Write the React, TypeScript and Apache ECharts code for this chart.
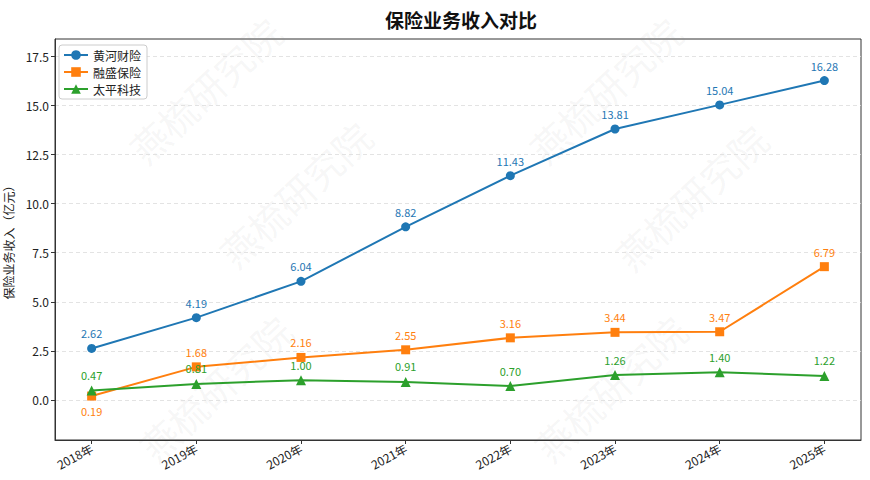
import React, { useEffect, useRef } from "react";
import * as echarts from "echarts";

const years = ["2018年", "2019年", "2020年", "2021年", "2022年", "2023年", "2024年", "2025年"];
const huanghe = [2.62, 4.19, 6.04, 8.82, 11.43, 13.81, 15.04, 16.28];
const rongsheng = [0.19, 1.68, 2.16, 2.55, 3.16, 3.44, 3.47, 6.79];
const taiping = [0.47, 0.81, 1.0, 0.91, 0.7, 1.26, 1.4, 1.22];
const seriesNames = ["黄河财险", "融盛保险", "太平科技"];
const yTicks = [0, 2.5, 5, 7.5, 10, 12.5, 15, 17.5];
const watermarkText = "燕梳研究院";

const FONT = "'Noto Sans CJK SC', 'Noto Sans', sans-serif";
const colors = ["#1f77b4", "#ff7f0e", "#2ca02c"];

export default function App() {
  const ref = useRef<HTMLDivElement>(null);
  useEffect(() => {
    if (!ref.current) return;
    const chart = echarts.init(ref.current, undefined, { renderer: "svg" });
    const toPairs = (arr: number[]) => arr.map((v, i) => [i, v]);
    const wmCenters = [
      [205, 90], [605, 90],
      [295, 194], [691, 197],
      [215, 388], [610, 388],
    ];
    const mkSeries = (name: string, data: number[], idx: number, symbol: string, size: number, labelPos?: (i: number) => string) => ({
      name,
      type: "line",
      data: toPairs(data),
      symbol,
      symbolSize: size,
      lineStyle: { width: 2, color: colors[idx] },
      itemStyle: { color: colors[idx] },
      z: 3 + idx,
      label: {
        show: true,
        color: colors[idx],
        fontSize: 11,
        fontFamily: FONT,
        distance: 5,
        position: "top",
        formatter: (p: any) => Number(p.value[1]).toFixed(2),
      },
      emphasis: { disabled: true },
      ...(labelPos
        ? {
            data: data.map((v, i) => ({
              value: [i, v],
              label: { position: labelPos(i) },
            })),
          }
        : {}),
    });
    chart.setOption({
      animation: false,
      backgroundColor: "#ffffff",
      color: colors,
      textStyle: { fontFamily: FONT },
      title: {
        text: "保险业务收入对比",
        left: 380,
        top: 5,
        textStyle: { fontSize: 19, fontWeight: "bold", color: "#111", fontFamily: FONT },
      },
      legend: {
        orient: "vertical",
        left: 59,
        top: 45,
        padding: [4, 6, 4, 4],
        itemGap: 5,
        itemWidth: 24,
        itemHeight: 12,
        backgroundColor: "rgba(255,255,255,0.85)",
        borderColor: "#cccccc",
        borderWidth: 1,
        borderRadius: 3,
        textStyle: { fontSize: 12, color: "#222", fontFamily: FONT },
        data: seriesNames,
      },
      grid: {
        left: 55,
        right: 9,
        top: 39,
        bottom: 40,
        show: true,
        borderColor: "#333",
        borderWidth: 1,
        outerBoundsMode: "none",
        containLabel: false,
      },
      xAxis: {
        type: "value",
        min: -0.35,
        max: 7.35,
        axisLine: { show: true, onZero: false, lineStyle: { color: "#333", width: 1 } },
        axisTick: { show: true, length: 4, lineStyle: { color: "#333" }, customValues: years.map((_, i) => i) },
        axisLabel: {
          customValues: years.map((_, i) => i),
          rotate: 28,
          margin: 7,
          fontSize: 12,
          color: "#222",
          fontFamily: FONT,
          formatter: (v: number) => years[Math.round(v)] ?? "",
        },
        splitLine: { show: false },
      },
      yAxis: {
        type: "value",
        min: -2.05,
        max: 18.4,
        name: "保险业务收入（亿元）",
        nameLocation: "middle",
        nameGap: 41,
        nameTextStyle: { fontSize: 12, color: "#222", fontFamily: FONT },
        axisLine: { show: true, onZero: false, lineStyle: { color: "#333", width: 1 } },
        axisTick: { show: true, length: 4, lineStyle: { color: "#333" }, customValues: yTicks },
        axisLabel: {
          customValues: yTicks,
          margin: 6,
          fontSize: 12,
          color: "#222",
          fontFamily: FONT,
          formatter: (v: number) => v.toFixed(1),
        },
        splitLine: { show: true, lineStyle: { type: [4, 3], color: "#dcdcdc", width: 0.8 } },
      },
      graphic: wmCenters.map(([cx, cy]) => ({
        type: "text",
        x: cx,
        y: cy,
        rotation: (43 * Math.PI) / 180,
        z: 0,
        silent: true,
        style: {
          text: watermarkText,
          font: `38px ${FONT}`,
          fill: "rgba(140,140,140,0.08)",
          align: "center",
          verticalAlign: "middle",
        },
      })),
      series: [
        mkSeries(seriesNames[0], huanghe, 0, "circle", 9),
        mkSeries(seriesNames[1], rongsheng, 1, "rect", 9, (i) => (i === 0 ? "bottom" : "top")),
        mkSeries(seriesNames[2], taiping, 2, "triangle", 10),
      ],
    });
    return () => chart.dispose();
  }, []);
  return (
    <div
      ref={ref}
      style={{ position: "fixed", left: 0, top: 0, width: 870, height: 480 }}
    />
  );
}
